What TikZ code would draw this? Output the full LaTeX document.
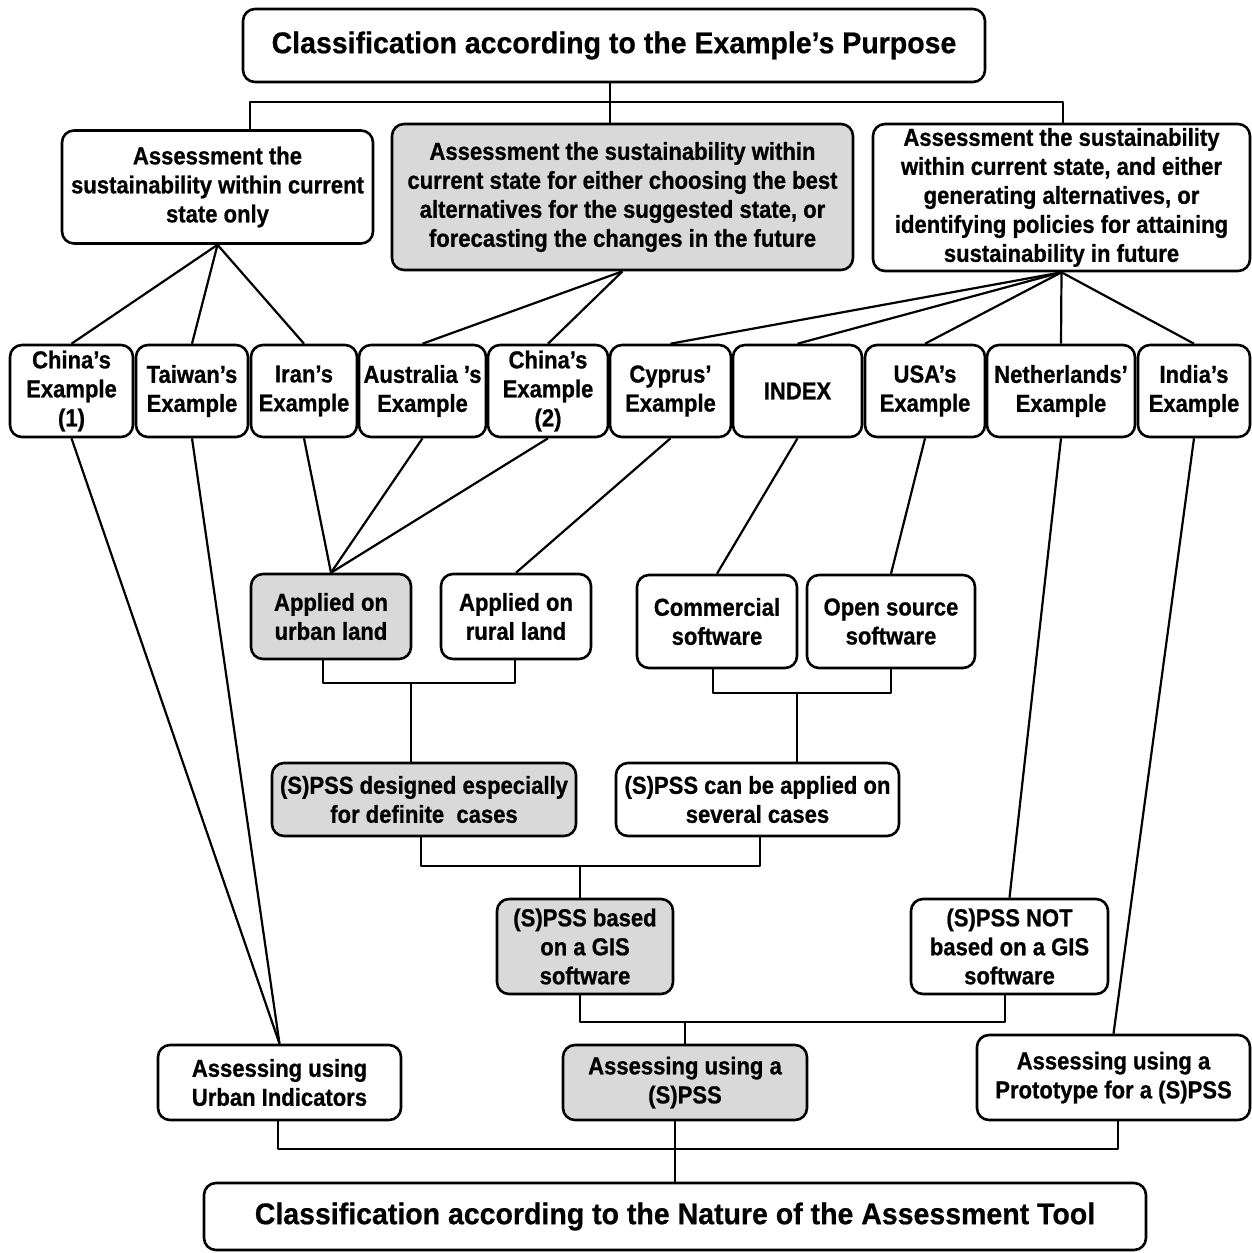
\documentclass[tikz,border=0pt]{standalone}
\usepackage{fontspec}
\setmainfont{Liberation Sans}[FakeStretch=0.9, BoldFeatures={FakeBold=0.8}]
\newfontfamily\headfont{Liberation Sans}[FakeStretch=0.95, BoldFeatures={FakeBold=0.6}]
\definecolor{boxgray}{RGB}{217,217,217}
\begin{document}
\begin{tikzpicture}[x=1pt,y=-1pt,
  box/.style={draw, line width=2.6pt, rounded corners=12pt, fill=white,
    align=center, inner sep=0pt, font=\bfseries\fontsize{24.5}{29}\selectfont},
  gbox/.style={box, fill=boxgray},
  headbox/.style={box, font=\headfont\bfseries\fontsize{30}{36}\selectfont},
  link/.style={line width=2.2pt, line join=round}]
\useasboundingbox (0,0) rectangle (1252,1253);

% ---- classification by purpose ----
\node[headbox, minimum width=742pt, minimum height=73pt] (top) at (614,45.5)
  {Classification according to the Example’s Purpose};

\node[box, minimum width=311pt, minimum height=113pt] (L1) at (217.5,187)
  {Assessment the\\sustainability within current\\state only};
\node[gbox, minimum width=461pt, minimum height=146pt] (M1) at (622.5,197)
  {Assessment the sustainability within\\current state for either choosing the best\\alternatives for the suggested state, or\\forecasting the changes in the future};
\node[box, minimum width=377pt, minimum height=147pt] (R1) at (1061.5,197.5)
  {Assessment the sustainability\\within current state, and either\\generating alternatives, or\\identifying policies for attaining\\sustainability in future};

% ---- examples ----
\begin{scope}[every node/.append style={minimum height=92pt}]
\node[box, minimum width=123pt] (ch1) at (71.5,391) {China’s\\Example\\(1)};
\node[box, minimum width=112pt] (tw) at (192,391) {Taiwan’s\\Example};
\node[box, minimum width=106pt] (ir) at (304,391) {Iran’s\\Example};
\node[box, minimum width=127pt] (au) at (422.5,391) {Australia ’s\\Example};
\node[box, minimum width=120pt] (ch2) at (548,391) {China’s\\Example\\(2)};
\node[box, minimum width=121pt] (cy) at (670.5,391) {Cyprus’\\Example};
\node[box, minimum width=129pt] (ix) at (797.5,391) {INDEX};
\node[box, minimum width=120pt] (us) at (925,391) {USA’s\\Example};
\node[box, minimum width=148pt] (nl) at (1061,391) {Netherlands’\\Example};
\node[box, minimum width=112pt] (in) at (1194,391) {India’s\\Example};
\end{scope}

% ---- application and software ----
\node[gbox, minimum width=160pt, minimum height=85pt] (urb) at (331,616.5) {Applied on\\urban land};
\node[box, minimum width=150pt, minimum height=85pt] (rur) at (516,616.5) {Applied on\\rural land};
\node[box, minimum width=160pt, minimum height=93pt] (com) at (717,621.5) {Commercial\\software};
\node[box, minimum width=168pt, minimum height=93pt] (opn) at (891,621.5) {Open source\\software};

\node[gbox, minimum width=304pt, minimum height=73pt] (des) at (424,799.5) {(S)PSS designed especially\\for definite\ \ cases};
\node[box, minimum width=283pt, minimum height=73pt] (sev) at (757.5,799.5) {(S)PSS can be applied on\\several cases};

\node[gbox, minimum width=176pt, minimum height=95pt] (gis) at (585,946.5) {(S)PSS based\\on a GIS\\software};
\node[box, minimum width=197pt, minimum height=95pt] (ngis) at (1009.5,946.5) {(S)PSS NOT\\based on a GIS\\software};

\node[box, minimum width=243pt, minimum height=75pt] (ind) at (279.5,1082.5) {Assessing using\\Urban Indicators};
\node[gbox, minimum width=244pt, minimum height=75pt] (pss) at (685,1082.5) {Assessing using a\\(S)PSS};
\node[box, minimum width=273pt, minimum height=85pt] (pro) at (1113.5,1077.5) {Assessing using a\\Prototype for a (S)PSS};

\node[headbox, minimum width=942pt, minimum height=67pt] (bot) at (675,1216.5)
  {Classification according to the Nature of the Assessment Tool};

% ---- junction points of the bracket connectors ----
\coordinate (b0) at (250,102);
\coordinate (b1) at (610,102);
\coordinate (b2) at (1063,102);
\coordinate (j1) at (411,683);
\coordinate (j2) at (797,693);
\coordinate (j3) at (580,866);
\coordinate (j4) at (685,1022);
\coordinate (j5) at (675,1149);

% ---- connectors ----
\draw[link] (b0 |- L1.north) -- (b0) -- (b2) -- (b2 |- R1.north);
\draw[link] (b1 |- top.south) -- (b1 |- M1.north);

\foreach \n in {ch1,tw,ir} \draw[link] (L1.south) -- (\n.north);
\foreach \n in {au,ch2} \draw[link] (M1.south) -- (\n.north);
\foreach \n in {cy,ix,us,nl,in} \draw[link] (R1.south) -- (\n.north);

\foreach \n in {ch1,tw} \draw[link] (\n.south) -- (ind.north);
\foreach \n in {ir,au,ch2} \draw[link] (\n.south) -- (urb.north);
\draw[link] (cy.south) -- (rur.north);
\draw[link] (ix.south) -- (com.north);
\draw[link] (us.south) -- (opn.north);
\draw[link] (nl.south) -- (ngis.north);
\draw[link] (in.south) -- (pro.north);

\draw[link] ([xshift=-8pt]urb.south) |- (j1) -| ([xshift=-1pt]rur.south);
\draw[link] (j1) -- (j1 |- des.north);
\draw[link] ([xshift=-4pt]com.south) |- (j2) -| (opn.south);
\draw[link] (j2) -- (j2 |- sev.north);
\draw[link] ([xshift=-3pt]des.south) |- (j3) -| ([xshift=2.5pt]sev.south);
\draw[link] (j3) -- (j3 |- gis.north);
\draw[link] ([xshift=-5pt]gis.south) |- (j4) -| ([xshift=-4.5pt]ngis.south);
\draw[link] (j4) -- (j4 |- pss.north);
\draw[link] ([xshift=-1.5pt]ind.south) |- (j5) -| ([xshift=4.5pt]pro.south);
\draw[link] (j5 |- pss.south) -- (j5 |- bot.north);
\end{tikzpicture}
\end{document}
